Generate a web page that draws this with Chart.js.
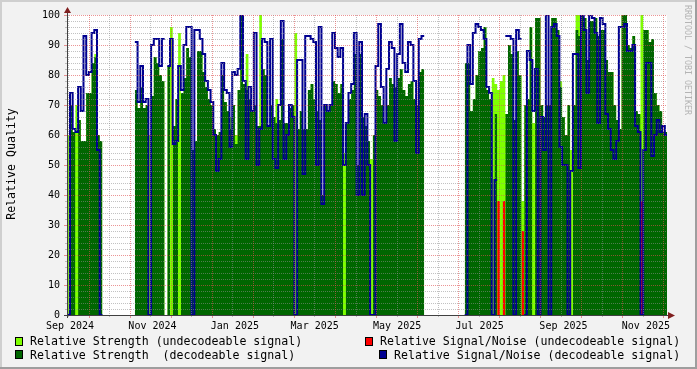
<!DOCTYPE html>
<html>
<head>
<meta charset="utf-8">
<script src="https://cdn.jsdelivr.net/npm/chart.js@4/dist/chart.umd.min.js"></script>
<style>
  html, body { margin: 0; padding: 0; background: #f2f2f2; }
  #wrap { position: relative; width: 697px; height: 369px; background: #f2f2f2; overflow: hidden; }
  #c { position: absolute; left: 0; top: 0; }
  .mono { font-family: 'DejaVu Sans Mono', monospace; color: #000; white-space: pre; position: absolute; }
  .lt { font-size: 11.6px; line-height: 14px; }
  .sw { position: absolute; width: 8px; height: 9px; box-sizing: border-box; border: 1px solid #000; }
  #ytitle { font-size: 11.6px; line-height: 14px; width: 200px; text-align: center; left: -89px; top: 157px; transform: rotate(-90deg); }
  #wm { font-size: 8.3px; line-height: 10px; color: #b4b4b4; width: 140px; text-align: center; left: 618px; top: 55px; transform: rotate(90deg); }
  #frameR { position: absolute; right: 0; top: 0; width: 2px; height: 369px; background: #9e9e9e; }
  #frameB { position: absolute; left: 0; bottom: 0; width: 697px; height: 2px; background: #9e9e9e; }
  #frameL { position: absolute; left: 0; top: 0; width: 2px; height: 369px; background: #cfcfcf; }
  #frameT { position: absolute; left: 0; top: 0; width: 697px; height: 2px; background: #cfcfcf; }
</style>
</head>
<body>
<div id="wrap">
  <canvas id="c" width="697" height="369"></canvas>
  <div id="frameL"></div><div id="frameT"></div><div id="frameR"></div><div id="frameB"></div>
  <div id="ytitle" class="mono">Relative Quality</div>
  <div id="wm" class="mono">RRDTOOL / TOBI OETIKER</div>
  <div class="sw" style="left:15px;top:337px;background:#7fff00"></div>
  <div class="mono lt" style="left:30px;top:334px">Relative Strength (undecodeable signal)</div>
  <div class="sw" style="left:365px;top:337px;background:#ff0000"></div>
  <div class="mono lt" style="left:380px;top:334px">Relative Signal/Noise (undecodeable signal)</div>
  <div class="sw" style="left:15px;top:350px;background:#006600"></div>
  <div class="mono lt" style="left:30px;top:348px">Relative Strength  (decodeable signal)</div>
  <div class="sw" style="left:379px;top:350px;background:#000090"></div>
  <div class="mono lt" style="left:394px;top:348px">Relative Signal/Noise (decodeable signal)</div>
</div>
<script>
const _ = null;

// time axis: one sample every 2 days, first sample 2024-08-30
const firstSample = '2024-08-30';
const stepDays = 2;
const axisOrigin = '2024-09-01';

// x-axis tick labels (placed at month starts)
const tickDates = ['2024-09-01','2024-11-01','2025-01-01','2025-03-01','2025-05-01','2025-07-01','2025-09-01','2025-11-01'];
const tickLabels = ['Sep 2024','Nov 2024','Jan 2025','Mar 2025','May 2025','Jul 2025','Sep 2025','Nov 2025'];

// Relative Strength (decodeable signal)
const strengthDecodeable = [
 _,70,61,_,65,58,58,74,74,84,86,60,58,
 _,_,_,_,_,_,_,_,_,_,_,_,
 75,69,76,69,70,_,73,86,84,80,78,_,83,_,63,72,_,74,79,89,86,55,58,88,88,81,76,72,70,62,60,61,80,71,68,62,70,57,75,100,
 77,75,72,68,70,63,63,82,80,63,70,66,64,65,92,64,64,69,70,_,62,68,62,62,75,77,72,68,65,40,70,68,70,78,77,74,77,_,64,72,
 75,87,50,87,66,63,58,_,60,75,73,70,64,70,79,77,76,79,82,75,73,77,78,72,70,81,82,
 _,_,_,_,_,_,_,_,_,_,_,_,_,_,_,
 84,84,68,72,80,88,89,96,75,72,_,67,_,_,_,67,90,87,65,88,80,_,70,72,96,_,99,99,70,66,70,70,99,99,95,76,66,60,70,_,
 70,95,93,100,99,85,98,98,99,93,95,95,85,81,81,70,65,62,100,100,90,89,93,68,67,_,95,95,91,92,74,70,68,61,61
];

// Relative Strength (undecodeable signal)
const strengthUndecodeable = [
 60,70,61,70,65,58,58,74,74,84,87,60,58,
 _,_,_,_,_,_,_,_,_,_,_,_,
 75,69,76,69,70,60,73,86,84,80,78,_,83,96,63,72,94,74,79,89,86,55,58,88,88,81,76,72,70,62,60,61,80,71,68,66,70,60,75,100,
 77,87,72,68,70,63,100,82,80,63,70,66,72,65,92,64,64,69,70,94,62,68,62,62,75,77,72,68,65,40,70,68,70,78,77,74,77,54,64,72,
 75,87,50,87,66,63,58,52,60,75,73,70,64,70,79,77,76,79,82,75,73,77,78,72,70,81,82,
 _,_,_,_,_,_,_,_,_,_,_,_,_,_,_,
 84,84,68,72,80,88,89,96,75,72,79,77,75,78,80,67,90,87,65,88,80,38,70,72,96,64,99,99,70,66,70,70,99,99,95,78,66,60,70,55,
 70,100,100,100,99,85,98,98,99,93,95,95,85,81,81,70,65,62,100,100,90,89,93,68,67,100,95,95,91,92,74,70,68,61,61
];

// Relative Signal/Noise (undecodeable signal)
const snUndecodeable = [
 _,_,_,_,_,_,_,_,_,_,_,_,_,
 _,_,_,_,_,_,_,_,_,_,_,_,
 _,_,_,_,_,_,_,_,_,_,_,_,_,_,_,_,_,_,_,_,_,_,_,_,_,_,_,_,_,_,_,_,_,_,_,_,_,_,_,_,
 _,_,_,_,_,_,_,_,_,_,_,_,_,_,_,_,_,_,_,_,_,_,_,_,_,_,_,_,_,_,_,_,_,_,_,_,_,_,_,_,
 _,_,_,_,_,_,_,_,_,_,_,_,_,_,_,_,_,_,_,_,_,_,_,_,_,_,_,
 _,_,_,_,_,_,_,_,_,_,_,_,_,_,_,
 _,_,_,_,_,_,_,_,_,_,_,_,38,_,38,_,_,_,_,_,_,28,_,_,_,_,_,_,_,_,_,_,_,_,_,_,_,_,_,_,
 _,_,_,_,_,_,_,_,_,_,_,_,_,_,_,_,_,_,_,_,_,_,_,_,_,38,_,_,_,_,_,_,_,_,_
];

// Relative Signal/Noise (decodeable signal)
const snDecodeable = [
 0,74,62,61,76,68,93,80,81,94,95,55,0,
 _,_,_,_,_,_,_,_,_,_,_,_,
 91,71,83,71,72,0,90,92,92,83,92,_,83,92,57,58,83,75,90,96,96,0,95,95,92,87,78,75,71,60,48,52,84,75,74,56,81,80,82,100,
 78,52,76,68,94,50,62,92,91,63,92,52,49,70,98,52,60,70,66,0,85,85,47,93,93,92,91,50,96,37,70,68,70,94,89,86,89,50,64,74,
 77,94,40,91,40,67,50,0,0,83,97,76,64,82,91,89,58,87,97,84,81,91,90,78,54,92,93,
 _,_,_,_,_,_,_,_,_,_,_,_,_,_,_,
 0,90,77,94,97,96,95,92,76,74,0,45,_,_,_,93,93,92,0,95,92,_,0,88,85,68,82,0,66,55,100,0,96,97,93,56,50,50,0,48,
 87,87,49,100,95,74,100,99,94,64,99,97,67,62,55,52,58,96,96,97,88,88,90,63,61,0,55,84,84,53,60,65,61,63,60
];

const DAY = 86400000;
const dayOf = s => (Date.parse(s + 'T00:00:00Z') - Date.parse(axisOrigin + 'T00:00:00Z')) / DAY;
const firstDay = dayOf(firstSample);
const tickDays = tickDates.map(dayOf);
const sampleDay = i => firstDay + i * stepDays;

// table for the library: each value is held for one step (RRD style)
function toSteps(vals) {
  const pts = [];
  for (let i = 0; i < vals.length; i++) {
    const v = vals[i];
    pts.push({x: sampleDay(i), y: v});
    if (v !== null && (i + 1 >= vals.length || vals[i + 1] === null)) {
      pts.push({x: sampleDay(i + 1), y: v});
    }
  }
  return pts;
}

const GRID = 'rgba(143,143,143,0.55)';
const MGRID = 'rgba(222,79,79,0.6)';
const ARROW = '#801f1f';
const AXIS = '#404040';

const rrdPlugin = {
  id: 'rrd',
  beforeDraw(chart) {
    const {ctx, chartArea: a} = chart;
    ctx.save();
    ctx.fillStyle = '#ffffff';
    ctx.fillRect(a.left, a.top, a.right - a.left, a.bottom - a.top);
    ctx.restore();
  },
  afterDatasetsDraw(chart) {
    const {ctx, chartArea: a, scales: {x, y}} = chart;
    ctx.save();
    ctx.lineWidth = 1;
    ctx.setLineDash([1, 1]);
    for (let v = 2; v <= 100; v += 2) {
      const py = Math.round(y.getPixelForValue(v)) + 0.5;
      ctx.strokeStyle = (v % 10 === 0) ? MGRID : GRID;
      ctx.beginPath(); ctx.moveTo(a.left, py); ctx.lineTo(a.right, py); ctx.stroke();
    }
    const majStart = 14.05, majStep = 30.33;
    for (let k = -1; k < 20; k++) {
      for (let h = 0; h < 2; h++) {
        const d = majStart + k * majStep + h * majStep / 2;
        const px = Math.round(x.getPixelForValue(d)) + 0.5;
        if (px <= a.left + 1 || px >= a.right) continue;
        ctx.strokeStyle = h === 0 ? MGRID : GRID;
        ctx.beginPath(); ctx.moveTo(px, a.top); ctx.lineTo(px, a.bottom); ctx.stroke();
        ctx.setLineDash([]);
        ctx.beginPath(); ctx.moveTo(px, a.bottom); ctx.lineTo(px, a.bottom + (h === 0 ? 3 : 2)); ctx.stroke();
        ctx.setLineDash([1, 1]);
      }
    }
    ctx.restore();
  },
  afterDraw(chart) {
    const {ctx, chartArea: a, scales: {y}} = chart;
    ctx.save();
    ctx.lineWidth = 1;
    for (let v = 0; v <= 100; v += 2) {
      const py = Math.round(y.getPixelForValue(v)) + 0.5;
      ctx.strokeStyle = (v % 10 === 0) ? MGRID : GRID;
      ctx.beginPath(); ctx.moveTo(a.left - (v % 10 === 0 ? 3 : 2), py); ctx.lineTo(a.left, py); ctx.stroke();
    }
    ctx.strokeStyle = AXIS;
    ctx.beginPath();
    ctx.moveTo(a.left - 3, a.bottom + 0.5); ctx.lineTo(a.right + 3, a.bottom + 0.5);
    ctx.moveTo(a.left + 0.5, a.bottom + 3); ctx.lineTo(a.left + 0.5, a.top - 4);
    ctx.stroke();
    ctx.fillStyle = ARROW;
    ctx.beginPath();
    ctx.moveTo(a.right + 1, a.bottom - 3); ctx.lineTo(a.right + 8, a.bottom + 0.5); ctx.lineTo(a.right + 1, a.bottom + 4); ctx.closePath(); ctx.fill();
    ctx.beginPath();
    ctx.moveTo(a.left - 3, a.top - 2); ctx.lineTo(a.left + 0.5, a.top - 8); ctx.lineTo(a.left + 4, a.top - 2); ctx.closePath(); ctx.fill();
    ctx.restore();
  }
};

const common = { pointRadius: 0, pointHoverRadius: 0, stepped: true, spanGaps: false, tension: 0 };

new Chart(document.getElementById('c'), {
  type: 'line',
  data: {
    datasets: [
      Object.assign({ label: 'Relative Strength (undecodeable signal)', data: toSteps(strengthUndecodeable),
        backgroundColor: '#7fff00', borderWidth: 0, borderColor: 'rgba(0,0,0,0)', fill: 'origin', order: 4 }, common),
      Object.assign({ label: 'Relative Strength  (decodeable signal)', data: toSteps(strengthDecodeable),
        backgroundColor: '#006600', borderWidth: 0, borderColor: 'rgba(0,0,0,0)', fill: 'origin', order: 3 }, common),
      Object.assign({ label: 'Relative Signal/Noise (undecodeable signal)', data: toSteps(snUndecodeable),
        backgroundColor: '#ff0000', borderWidth: 0, borderColor: 'rgba(0,0,0,0)', fill: 'origin', order: 2 }, common),
      Object.assign({ label: 'Relative Signal/Noise (decodeable signal)', data: toSteps(snDecodeable),
        borderColor: '#000090', borderWidth: 2, fill: false, order: 1 }, common)
    ]
  },
  options: {
    responsive: false,
    devicePixelRatio: 1,
    animation: false,
    parsing: false,
    events: [],
    layout: { padding: { left: 0, top: 15, right: 30, bottom: 0 } },
    plugins: { legend: { display: false }, tooltip: { enabled: false }, title: { display: false } },
    scales: {
      x: {
        type: 'linear', min: -2.2, max: 441.6,
        grid: { display: false, drawTicks: false },
        border: { display: false },
        afterFit: s => { s.height = 54; },
        afterBuildTicks: s => { s.ticks = tickDays.map(v => ({ value: v })); },
        ticks: {
          autoSkip: false, maxRotation: 0, minRotation: 0, padding: 5,
          color: '#000', font: { family: 'DejaVu Sans Mono', size: 10 },
          callback: (v, i) => tickLabels[i]
        }
      },
      y: {
        min: 0, max: 100,
        grid: { display: false, drawTicks: false },
        border: { display: false },
        afterFit: s => { s.width = 67; },
        ticks: { stepSize: 10, padding: 7, color: '#000', font: { family: 'DejaVu Sans Mono', size: 10 } }
      }
    }
  },
  plugins: [rrdPlugin]
});
</script>
</body>
</html>
